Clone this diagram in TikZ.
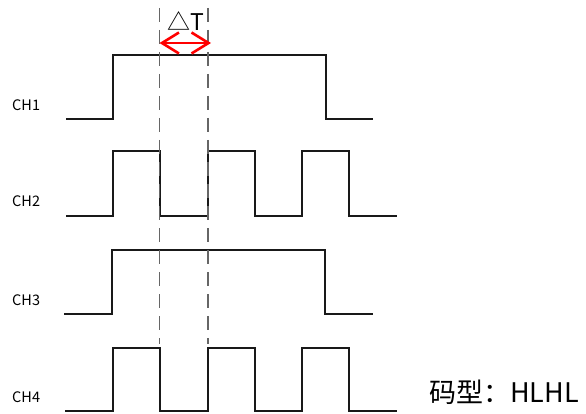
\documentclass[tikz,border=0pt]{standalone}
\usepackage{fontspec}
\newfontfamily\cjk{Noto Sans CJK SC}
\usetikzlibrary{arrows.meta,positioning}

\begin{document}
\begin{tikzpicture}[
      x=1pt, y=-1pt,
      font=\cjk,
      % Reusable styles
      chlabel/.style={
        anchor=west,
        inner sep=0pt,
        font=\cjk\fontsize{14.5}{16}\selectfont
      },
      wave/.style={line width=2.4pt, draw=black!90, miter limit=10},
      marker/.style={line width=1.2pt, draw=black!60, dash pattern=on 14pt off 8pt},
      delta/.style={{Straight Barb[length=17pt,width=21pt]}-{Straight Barb[length=17pt,width=21pt]},
        line width=2.6pt, draw=red},
      note/.style={inner sep=0pt, font=\cjk\fontsize{27}{29}\selectfont}
    ]
    \useasboundingbox (0,0) rectangle (586,414);

    % Channel labels
    \node[chlabel] (ch1) at (12,105.5) {CH1};
    \node[chlabel] (ch2) at (12,201.5) {CH2};
    \node[chlabel] (ch3) at (12,300) {CH3};
    \node[chlabel] (ch4) at (12,397) {CH4};

    % Waveforms
    \draw[wave] (66,119) -- (113,119) -- (113,55) -- (326,55) -- (326,119) -- (373,119);
    \draw[wave] (66,216) -- (113,216) -- (113,151) -- (160,151) -- (160,216) -- (208,216)
      -- (208,151) -- (255,151) -- (255,216) -- (302,216) -- (302,151) -- (349,151)
      -- (349,216) -- (397,216);
    \draw[wave] (64,314) -- (112,314) -- (112,250) -- (325,250) -- (325,314) -- (373,314);
    \draw[wave] (65,411) -- (113,411) -- (113,348) -- (160,348) -- (160,411) -- (208,411)
      -- (208,348) -- (255,348) -- (255,411) -- (302,411) -- (302,348) -- (349,348)
      -- (349,411) -- (397,411);

    % Time markers
    \coordinate (t1top) at (159.5,8);
    \coordinate (t1bot) at (159.5,344);
    \coordinate (t2top) at (208,8);
    \coordinate (t2bot) at (208,344);
    \draw[marker] (t1top) -- (t1bot);
    \draw[marker] (t2top) -- (t2bot);

    % Delta T
    \coordinate (dl) at (159.5,43);
    \coordinate (dr) at (211,43);
    \draw[delta] (dl) -- (dr);
    \node[inner sep=0pt, font=\cjk\fontsize{23}{25}\selectfont] (dt) at (186,21) {△T};

    % Code pattern
    \node[note, anchor=west] (code) at (429,392) {码型：HLHL};
  \end{tikzpicture}
\end{document}
